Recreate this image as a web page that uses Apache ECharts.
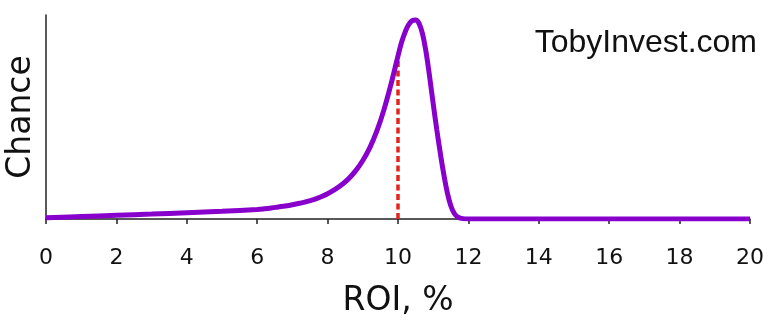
<!DOCTYPE html>
<html><head><meta charset="utf-8">
<script src="https://cdn.jsdelivr.net/npm/echarts@6/dist/echarts.min.js"></script>
<style>html,body{margin:0;padding:0;background:#fff}#c{width:768px;height:325px}</style>
</head><body><div id="c"></div>
<script>
const roi = [0,1,2,3,4,5,6,6.2,6.4,6.6,6.8,7,7.2,7.4,7.6,7.8,8,8.2,8.4,8.6,8.8,9,9.2,9.4,9.6,9.8,10,10.1,10.2,10.3,10.4,10.5,10.6,10.7,10.8,10.9,11.0,11.1,11.2,11.3,11.4,11.5,11.6,11.7,11.8,12,14,16,18,20];
const chance = [0.006,0.012,0.018,0.024,0.031,0.038,0.047,0.050,0.054,0.059,0.064,0.070,0.077,0.085,0.095,0.108,0.124,0.144,0.168,0.198,0.237,0.287,0.35,0.432,0.535,0.66,0.80,0.865,0.915,0.952,0.972,0.975,0.958,0.905,0.815,0.695,0.565,0.44,0.325,0.22,0.13,0.065,0.027,0.01,0.003,0,0,0,0,0];
const markerX = [10,10];
const markerY = [0,0.80];
const xTicks = [0,2,4,6,8,10,12,14,16,18,20];

const chart = echarts.init(document.getElementById('c'));
chart.setOption({
  animation:false,
  grid:{left:46,right:18,top:15,bottom:106,outerBoundsMode:'none',containLabel:false},
  xAxis:{type:'value',min:0,max:20,interval:2,
    name:'ROI, %',nameLocation:'middle',nameGap:66,
    nameTextStyle:{fontFamily:'DejaVu Sans',fontSize:33,color:'#111'},
    axisLine:{lineStyle:{color:'#222',width:1.5}},
    axisTick:{show:true,length:5,lineStyle:{color:'#222',width:1.5}},
    axisLabel:{fontFamily:'DejaVu Sans',fontSize:22,color:'#111',margin:28,
      formatter:v=>xTicks.includes(v)?String(v):''},
    splitLine:{show:false}},
  yAxis:{type:'value',min:0,max:1,
    name:'Chance',nameLocation:'middle',nameGap:8,
    nameTextStyle:{fontFamily:'DejaVu Sans',fontSize:33,color:'#111'},
    axisLine:{show:true,lineStyle:{color:'#222',width:1.5}},
    axisTick:{show:false},axisLabel:{show:false},splitLine:{show:false}},
  graphic:[{type:'text',right:11,top:27,
    style:{text:'TobyInvest.com',fontFamily:'Liberation Sans',fontSize:32,fill:'#111'}}],
  series:[
    {type:'line',data:markerX.map((x,i)=>[x,markerY[i]]),symbol:'none',z:1,
     lineStyle:{color:'#e3241e',width:3.5,type:[6,3.5]}},
    {type:'line',data:roi.map((x,i)=>[x,chance[i]]),symbol:'none',smooth:0.4,z:2,
     lineStyle:{color:'#8800cc',width:5}}
  ]
});
</script></body></html>
